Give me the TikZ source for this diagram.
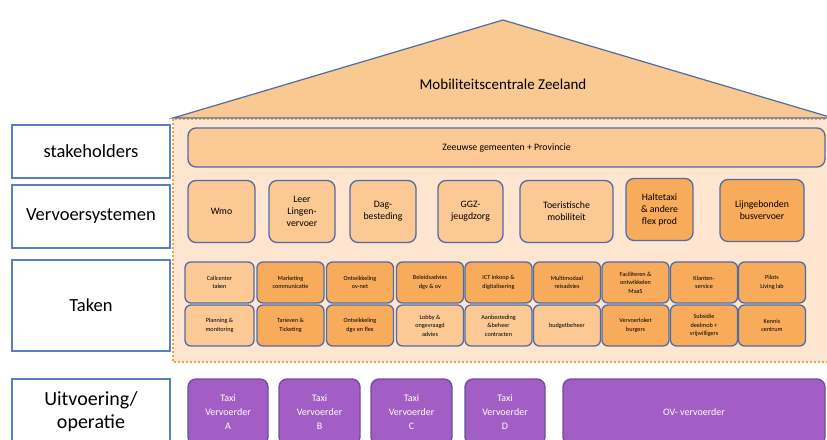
\documentclass[tikz,border=0pt]{standalone}
\usepackage{fontspec}
\setmainfont{Carlito}
\usepackage{tikz}
\usetikzlibrary{positioning}
\definecolor{panelbg}{HTML}{FDE5CF}
\definecolor{dotorange}{HTML}{F5A04A}
\definecolor{roofcol}{HTML}{FAC891}
\definecolor{lightfill}{HTML}{FCC894}
\definecolor{darkfill}{HTML}{F8AB5A}
\definecolor{edgeblue}{HTML}{4E6DA6}
\definecolor{labelblue}{HTML}{5B7EC0}
\definecolor{purplefill}{HTML}{A25EC4}
\definecolor{purpleedge}{HTML}{6A4F9E}
\tikzstyle{rowlabel} = [rectangle, draw=labelblue, line width=1.3pt, fill=white, minimum width=158pt, inner sep=0pt, align=center, font=\fontsize{18.5}{23}\selectfont]
\tikzstyle{lightbox} = [rectangle, rounded corners=8pt, draw=edgeblue, line width=1.3pt, fill=lightfill, inner sep=0pt, align=center, font=\fontsize{9.8}{12}\selectfont]
\tikzstyle{darkbox} = [lightbox, fill=darkfill]
\tikzstyle{task} = [lightbox, rounded corners=6pt, minimum width=67pt, minimum height=41pt, font=\fontsize{6.2}{8.6}\selectfont]
\tikzstyle{darktask} = [task, fill=darkfill]
\tikzstyle{carrier} = [rectangle, rounded corners=8pt, draw=purpleedge, line width=1.3pt, fill=purplefill, text=white, minimum height=66pt, inner sep=0pt, align=center, font=\fontsize{10}{14}\selectfont]

\begin{document}
\begin{tikzpicture}[x=1pt, y=-1pt]
\clip (0,0) rectangle (827,439);
\fill[white] (0,0) rectangle (827,439);
% background panel and roof
\draw[dotorange, fill=panelbg, line width=2pt, dotted] (173,119) rectangle (840,362);
\draw[edgeblue, fill=roofcol, line width=1.2pt] (173,118) -- (503,20) -- (833,118) -- cycle;
\node (roof) at (503,84) {\fontsize{15}{18}\selectfont Mobiliteitscentrale Zeeland};

% row labels
\node (stake)[rowlabel, minimum height=53pt] at (91,151.5) {stakeholders};
\node (systems)[rowlabel, minimum height=63pt] at (91,216.5) {Vervoersystemen};
\node (tasks)[rowlabel, minimum height=91pt] at (91,305.5) {Taken};
\node (ops)[rowlabel, minimum height=66pt, font=\fontsize{20}{23}\selectfont] at (91,412) {Uitvoering/\\operatie};

% stakeholders
\node (zeeland)[lightbox, minimum width=637pt, minimum height=39pt] at (506.5,147.5) {Zeeuwse gemeenten + Provincie};

% vervoersystemen
\node (wmo)[lightbox, minimum width=67pt, minimum height=62pt] at (221.5,211.5) {Wmo};
\node (leer)[lightbox, minimum width=66pt, minimum height=62pt] at (302,211.5) {Leer\\Lingen-\\vervoer};
\node (dag)[lightbox, minimum width=66pt, minimum height=62pt] at (383,211.5) {Dag-\\besteding};
\node (ggz)[lightbox, minimum width=65pt, minimum height=62pt] at (470.5,211.5) {GGZ-\\jeugdzorg};
\node (toer)[lightbox, minimum width=93pt, minimum height=62pt] at (566.5,211.5) {Toeristische\\mobiliteit};
\node (halte)[darkbox, minimum width=67pt, minimum height=62pt] at (659.5,209.5) {Haltetaxi\\\& andere\\flex prod};
\node (lijn)[darkbox, minimum width=84pt, minimum height=62pt] at (762,210.5) {Lijngebonden\\busvervoer};

% taken, upper row
\node (callc)[task, minimum width=69pt] at (219.5,282.5) {Callcenter\\taken};
\node (market)[darktask] at (290.5,282.5) {Marketing\\communicatie};
\node (ovnet)[darktask] at (360,282.5) {Ontwikkeling\\ov-net};
\node (beleid)[darktask] at (430,282.5) {Beleidsadvies\\dgv \& ov};
\node (ict)[darktask] at (498.5,282.5) {ICT inkoop \&\\digitalisering};
\node (multi)[darktask] at (567,282.5) {Multimodaal\\reisadvies};
\node (maas)[darktask] at (635.5,282.5) {Faciliteren \&\\ontwikkelen\\MaaS};
\node (klant)[darktask] at (704,282.5) {Klanten-\\service};
\node (pilot)[darktask] at (772,282.5) {Pilots\\Living lab};

% taken, lower row
\node (plan)[task, minimum width=69pt] at (219.5,325.5) {Planning \&\\monitoring};
\node (tarief)[darktask] at (290.5,325.5) {Tarieven \&\\Ticketing};
\node (dgvflex)[darktask] at (360,325.5) {Ontwikkeling\\dgv en flex};
\node (lobby)[task] at (430,325.5) {Lobby \&\\ongevraagd\\advies};
\node (aanbest)[task] at (498.5,325.5) {Aanbesteding\\\&beheer\\contracten};
\node (budget)[task] at (567,325.5) {budgetbeheer};
\node (loket)[darktask] at (635.5,325.5) {Vervoerloket\\burgers};
\node (subsidie)[darktask] at (704,325.5) {Subsidie\\deelmob +\\vrijwilligers};
\node (kennis)[darktask] at (772,325.5) {Kennis\\centrum};

% uitvoering
\node (taxiA)[carrier, minimum width=80pt] at (228,412) {Taxi\\Vervoerder\\A};
\node (taxiB)[carrier, minimum width=81pt] at (319.5,412) {Taxi\\Vervoerder\\B};
\node (taxiC)[carrier, minimum width=81pt] at (411.5,412) {Taxi\\Vervoerder\\C};
\node (taxiD)[carrier, minimum width=80pt] at (505,412) {Taxi\\Vervoerder\\D};
\node (ovcarrier)[carrier, minimum width=262pt] at (694,412) {OV- vervoerder};
\end{tikzpicture}
\end{document}
